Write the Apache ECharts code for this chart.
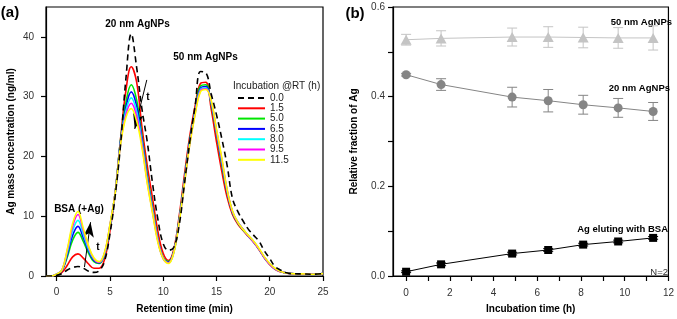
<!DOCTYPE html>
<html><head><meta charset="utf-8">
<script src="https://cdn.jsdelivr.net/npm/echarts@6/dist/echarts.min.js"></script>
<style>html,body{margin:0;padding:0;background:#fff}#c{width:677px;height:319px}</style>
</head><body><div id="c"></div>
<script>
// ---------- Panel (a) data ----------
const retentionTime = [-1,-0.5,0,0.5,1,1.5,2,2.5,3,3.5,4,4.5,5,5.5,6,6.5,7,7.5,8,8.5,9,9.5,10,10.5,11,11.5,12,12.5,13,13.5,14,14.5,15,15.5,16,16.5,17,17.5,18,18.5,19,19.5,20,20.5,21,21.5,22,23,24,25];
const incubationLabels = ['0.0','1.5','5.0','6.5','8.0','9.5','11.5'];
const conc_00 = [0,0,0.1,0.4,1.0,1.4,1.6,1.3,0.8,0.6,0.9,2.5,7.0,13.5,22.0,33.0,40.5,35.0,28.0,22.5,15.5,9.5,5.4,4.3,4.8,8.5,15.5,22.5,28.5,34.2,34.0,30.5,27.0,23.0,18.5,13.0,10.8,9.2,7.8,6.8,5.8,4.2,2.9,1.6,1.0,0.6,0.4,0.35,0.3,0.4];
const conc_15 = [0,0,0.2,0.6,1.8,3.2,3.7,3.0,2.0,1.3,1.3,2.8,7.5,14.0,23.0,31.0,35.0,32.5,25.0,18.5,13.0,7.5,3.8,2.6,4.5,10.0,17.0,23.5,28.5,32.2,32.4,28.0,22.5,17.5,13.2,10.3,8.7,7.6,6.6,5.6,4.4,3.0,1.9,1.1,0.7,0.5,0.4,0.35,0.3,0.4];
const conc_50 = [0,0,0.3,0.9,3.2,6.0,7.3,5.8,3.8,2.4,2.1,3.6,8.2,14.0,22.8,29.0,32.0,29.5,23.5,17.0,11.5,6.3,3.1,2.4,4.2,9.5,16.2,22.8,27.8,31.8,32.0,28.8,23.8,18.6,14.0,10.6,8.9,7.7,6.7,5.7,4.5,3.1,2.0,1.2,0.8,0.5,0.4,0.35,0.3,0.4];
const conc_65 = [0,0,0.3,0.9,3.6,6.8,8.3,6.4,4.2,2.6,2.2,3.7,8.3,14.0,22.6,28.2,30.8,28.5,23.0,16.6,11.2,6.1,3.0,2.3,4.1,9.3,16.0,22.6,27.6,31.4,31.7,29.0,24.1,19.0,14.2,10.7,9.0,7.8,6.7,5.7,4.5,3.1,2.0,1.2,0.8,0.5,0.4,0.35,0.3,0.4];
const conc_80 = [0,0,0.3,1.0,4.0,7.6,9.3,7.0,4.5,2.8,2.3,3.8,8.4,14.0,22.4,27.6,29.8,27.6,22.5,16.2,11.0,6.0,2.9,2.2,4.0,9.2,15.8,22.4,27.4,31.2,31.5,29.2,24.3,19.3,14.3,10.8,9.0,7.8,6.7,5.7,4.5,3.1,2.0,1.2,0.8,0.5,0.4,0.35,0.3,0.4];
const conc_95 = [0,0,0.3,1.0,4.3,8.3,10.3,7.6,4.8,2.9,2.3,3.9,8.5,14.0,22.2,27.0,28.9,26.8,22.0,15.8,10.7,5.9,2.9,2.2,4.0,9.1,15.6,22.2,27.2,31.0,31.3,29.3,24.4,19.5,14.4,10.8,9.0,7.8,6.7,5.7,4.5,3.1,2.0,1.2,0.8,0.5,0.4,0.35,0.3,0.4];
const conc_115 = [0,0,0.3,1.0,4.5,8.8,10.8,8.0,5.0,3.0,2.4,4.0,8.6,14.0,22.0,26.5,28.0,26.0,21.5,15.5,10.5,5.6,2.9,2.1,3.9,9.0,15.5,22.0,27.0,30.8,31.2,29.4,24.6,19.8,14.5,10.9,9.0,7.8,6.8,5.8,4.6,3.2,2.1,1.3,0.8,0.5,0.4,0.35,0.3,0.4];
const ticksA_x = [0,5,10,15,20,25];
const ticksA_y = [0,10,20,30,40];

// ---------- Panel (b) data ----------
const incubationTime = [0,1.6,4.85,6.5,8.1,9.7,11.3];
const frac50 = [0.527,0.530,0.533,0.533,0.532,0.531,0.531];
const err50  = [0.012,0.017,0.020,0.023,0.023,0.023,0.027];
const frac20 = [0.449,0.427,0.399,0.391,0.382,0.375,0.367];
const err20  = [0.003,0.013,0.022,0.025,0.021,0.021,0.020];
const fracBSA = [0.0095,0.026,0.050,0.058,0.070,0.077,0.085];
const errBSA  = [0.002,0.003,0.003,0.003,0.003,0.003,0.003];
const ticksB_x = [0,1,2,3,4,5,6,7,8,9,10,11,12];
const labelsB_x = [0,2,4,6,8,10,12];
const ticksB_y = [0,0.1,0.2,0.3,0.4,0.5,0.6];
const labelsB_y = [0,0.2,0.4,0.6];

const FONT = 'Liberation Sans, Arial, sans-serif';
const chart = echarts.init(document.getElementById('c'), null, {renderer:'canvas'});

const concSeries = [conc_00,conc_15,conc_50,conc_65,conc_80,conc_95,conc_115];
const colors = ['#000000','#ff0000','#00e600','#0000ff','#00ffff','#ff00ff','#ffff00'];

const seriesA = concSeries.map((arr,k)=>({
  type:'line', name: incubationLabels[k], xAxisIndex:0, yAxisIndex:0,
  data: retentionTime.map((t,i)=>[t,arr[i]]),
  symbol:'none', smooth:0.4, clip:true,
  lineStyle:{color:colors[k], width:1.6, type: k===0?[6,4]:'solid'},
  itemStyle:{color:colors[k]},
  z: k===0? 10 : 2+k,
  markLine: k===0 ? {
    silent:true, animation:false, label:{show:false},
    lineStyle:{color:'#000', type:'solid', width:1},
    data:[
      [{coord:[8.46,32.8], symbol:'none'},{coord:[7.33,24.6], symbol:'arrow', symbolSize:[8,15]}],
      [{coord:[2.61,1.5], symbol:'none'},{coord:[3.18,9.0], symbol:'arrow', symbolSize:[8,15]}]
    ]
  } : undefined
}));

function errSeries(xs, ys, es, color){
  return {
    type:'custom', xAxisIndex:1, yAxisIndex:1, z:1, silent:true,
    data: xs.map((x,i)=>[x, ys[i]-es[i], ys[i]+es[i]]),
    encode:{x:0, y:[1,2]},
    renderItem:(params, api)=>{
      const lo = api.coord([api.value(0), api.value(1)]);
      const hi = api.coord([api.value(0), api.value(2)]);
      const hw = 5;
      const st = {stroke:color, lineWidth:1};
      return {type:'group', children:[
        {type:'line', shape:{x1:lo[0],y1:lo[1],x2:hi[0],y2:hi[1]}, style:st},
        {type:'line', shape:{x1:lo[0]-hw,y1:lo[1],x2:lo[0]+hw,y2:lo[1]}, style:st},
        {type:'line', shape:{x1:hi[0]-hw,y1:hi[1],x2:hi[0]+hw,y2:hi[1]}, style:st}
      ]};
    }
  };
}

const seriesB = [
  errSeries(incubationTime, frac50, err50, '#c4c4c4'),
  errSeries(incubationTime, frac20, err20, '#858585'),
  errSeries(incubationTime, fracBSA, errBSA, '#000'),
  {type:'line', xAxisIndex:1, yAxisIndex:1, z:3, data: incubationTime.map((x,i)=>[x,frac50[i]]),
   symbol:'triangle', symbolSize:[11,10], lineStyle:{color:'#c4c4c4', width:1}, itemStyle:{color:'#c4c4c4'}},
  {type:'line', xAxisIndex:1, yAxisIndex:1, z:3, data: incubationTime.map((x,i)=>[x,frac20[i]]),
   symbol:'circle', symbolSize:9, lineStyle:{color:'#858585', width:1}, itemStyle:{color:'#858585'}},
  {type:'line', xAxisIndex:1, yAxisIndex:1, z:3, data: incubationTime.map((x,i)=>[x,fracBSA[i]]),
   symbol:'rect', symbolSize:8, lineStyle:{color:'#000', width:1}, itemStyle:{color:'#000'}}
];

const axisCommon = {
  axisLine:{show:true, onZero:false, lineStyle:{color:'#000', width:1.2}},
  axisTick:{show:true, length:5, lineStyle:{color:'#000', width:1.2}},
  splitLine:{show:false},
  axisLabel:{fontFamily:FONT, fontSize:10, color:'#333'},
  nameLocation:'middle',
  nameTextStyle:{fontFamily:FONT, fontSize:10, fontWeight:'bold', color:'#000'}
};

function txt(x,y,text,opts){
  return {type:'text', x:x, y:y, silent:true, style:Object.assign({text:text, fill:'#000', font:'bold 10px '+FONT, align:'center', verticalAlign:'middle'}, opts||{})};
}

chart.setOption({
  animation:false,
  grid:[
    {left:46, top:7, width:277, height:274, show:true, borderColor:'#000', borderWidth:1.2},
    {left:393, top:7, width:279, height:274, show:true, borderColor:'#000', borderWidth:1.2}
  ],
  xAxis:[
    Object.assign({}, axisCommon, {type:'value', gridIndex:0, min:-1, max:25, name:'Retention time (min)', nameGap:28,
      axisTick:Object.assign({}, axisCommon.axisTick, {customValues:ticksA_x}),
      axisLabel:Object.assign({}, axisCommon.axisLabel, {customValues:ticksA_x, margin:11})}),
    Object.assign({}, axisCommon, {type:'value', gridIndex:1, min:-0.6, max:12, name:'Incubation time (h)', nameGap:28,
      axisTick:Object.assign({}, axisCommon.axisTick, {customValues:ticksB_x}),
      axisLabel:Object.assign({}, axisCommon.axisLabel, {customValues:labelsB_x, margin:12})})
  ],
  yAxis:[
    Object.assign({}, axisCommon, {type:'value', gridIndex:0, min:0, max:45, name:'Ag mass concentration (ng/ml)', nameGap:30,
      axisTick:Object.assign({}, axisCommon.axisTick, {customValues:ticksA_y}),
      axisLabel:Object.assign({}, axisCommon.axisLabel, {customValues:ticksA_y, margin:12})}),
    Object.assign({}, axisCommon, {type:'value', gridIndex:1, min:0, max:0.6, name:'Relative fraction of Ag', nameGap:34,
      axisTick:Object.assign({}, axisCommon.axisTick, {customValues:ticksB_y}),
      axisLabel:Object.assign({}, axisCommon.axisLabel, {customValues:labelsB_y, margin:8, formatter:v=>v.toFixed(1)})})
  ],
  legend:{
    orient:'vertical', left:232, top:88, itemWidth:27, itemHeight:10, itemGap:0.3,
    data:incubationLabels, selectedMode:false,
    itemStyle:{opacity:0, color:'transparent', borderWidth:0},
    textStyle:{fontFamily:FONT, fontSize:10, color:'#222'}
  },
  graphic:[
    txt(10,13,'(a)',{font:'bold 15px '+FONT}),
    txt(355,14,'(b)',{font:'bold 15px '+FONT}),
    txt(137.5,24,'20 nm AgNPs'),
    txt(205.5,57,'50 nm AgNPs'),
    txt(79,209,'BSA (+Ag)'),
    txt(148,97,'t'),
    txt(98,247,'t'),
    txt(233,86,'Incubation @RT (h)',{font:'10px '+FONT, align:'left', fill:'#222'}),
    txt(672,22,'50 nm AgNPs',{align:'right', font:'bold 9.5px '+FONT}),
    txt(670,88,'20 nm AgNPs',{align:'right', font:'bold 9.5px '+FONT}),
    txt(668,229,'Ag eluting with BSA',{align:'right', font:'bold 9.5px '+FONT}),
    txt(668,272,'N=2',{align:'right', font:'9.5px '+FONT, fill:'#333'})
  ],
  series: seriesA.concat(seriesB)
});
</script></body></html>
